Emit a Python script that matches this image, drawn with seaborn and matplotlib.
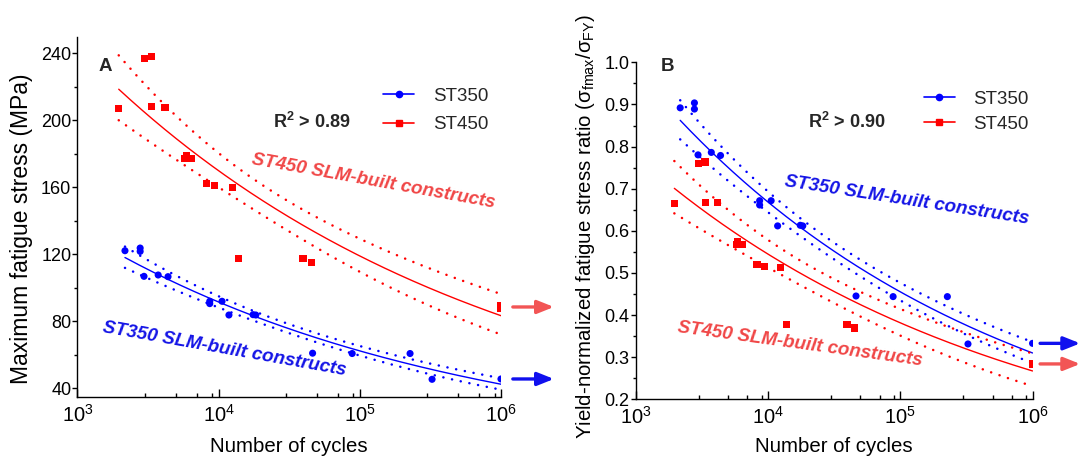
import numpy as np
import pandas as pd
import matplotlib
matplotlib.use("Agg")
import matplotlib.pyplot as plt
import seaborn as sns
from matplotlib.lines import Line2D
from matplotlib.ticker import (LogLocator, LogFormatterSciNotation, MultipleLocator,
                               NullFormatter, FormatStrFormatter)

# Fatigue results: cycles to failure and maximum cyclic stress (MPa)
st350_cycles = [2170, 2780, 2780, 2960, 3730, 4380, 8650, 8650, 10570, 11830,
                17540, 18330, 46300, 88300, 227000, 325000, 1000000]
st350_stress = [122.2, 123.8, 121.8, 106.9, 107.7, 106.7, 92.0, 90.6, 92.0, 83.8,
                84.0, 83.8, 61.0, 60.8, 60.8, 45.4, 45.6]
st450_cycles = [1960, 3000, 3340, 3360, 4170, 5770, 5900, 6380, 8260, 9350,
                12450, 13830, 39600, 45300, 1000000, 1000000]
st450_stress = [207.4, 237.0, 238.2, 208.4, 208.0, 177.0, 179.2, 177.0, 162.4, 161.0,
                160.0, 117.8, 117.8, 115.2, 89.2, 88.0]

alloys = ["ST350", "ST450"]
# Yield strength (MPa) used for the normalised stress ratio
yield_strength = [137.0, 312.0]

# Basquin-type S-N fit, S = coef * N**exponent, with its 95 % confidence band
# half-width (log10 units) w(N) = sqrt(w0**2 + k**2 * (log10 N - centre)**2)
fit_coef = [425.5, 705.9]
fit_exponent = [-0.1668, -0.1546]
band_centre = [4.3, 4.2]
band_w0 = [0.0150, 0.0253]
band_k = [0.0186, 0.0319]
runout_cycles = 1e6

marker_colors = {"ST350": "#0000FF", "ST450": "#FF0000"}
text_colors = {"ST350": "#1414E6", "ST450": "#F04646"}
arrow_colors = {"ST350": "#1010EE", "ST450": "#F25555"}
markers = {"ST350": "o", "ST450": "s"}

sns.set_theme(style="ticks")
plt.rcParams["font.family"] = ["Liberation Sans", "DejaVu Sans"]
plt.rcParams["mathtext.fontset"] = "custom"
plt.rcParams["mathtext.rm"] = "Liberation Sans"
plt.rcParams["mathtext.it"] = "Liberation Sans:italic"
plt.rcParams["mathtext.bf"] = "Liberation Sans:bold"

ys = dict(zip(alloys, yield_strength))
df = pd.DataFrame({
    "cycles": st350_cycles + st450_cycles,
    "stress": st350_stress + st450_stress,
    "alloy": ["ST350"] * len(st350_cycles) + ["ST450"] * len(st450_cycles),
})
df["ratio"] = df["stress"] / df["alloy"].map(ys)

curves = []
for i, alloy in enumerate(alloys):
    sub = df[df["alloy"] == alloy]
    n = np.geomspace(sub["cycles"].min(), sub["cycles"].max(), 300)
    fit = fit_coef[i] * n ** fit_exponent[i]
    w = np.sqrt(band_w0[i] ** 2 + band_k[i] ** 2 * (np.log10(n) - band_centre[i]) ** 2)
    for kind, vals in (("fit", fit), ("lower", fit / 10 ** w), ("upper", fit * 10 ** w)):
        curves.append(pd.DataFrame({"cycles": n, "stress": vals, "alloy": alloy,
                                    "kind": kind}))
curves = pd.concat(curves, ignore_index=True)
curves["ratio"] = curves["stress"] / curves["alloy"].map(ys)

fig = plt.figure(figsize=(10.82, 4.62), dpi=100)
ax_a = fig.add_axes([0.0716, 0.1413, 0.3914, 0.7792])
ax_b = fig.add_axes([0.5875, 0.1357, 0.3668, 0.7294])

panels = [
    dict(ax=ax_a, col="stress", ylim=(35, 250), major=40, minor=20, fmt="%d",
         ylabel="Maximum fatigue stress (MPa)", ylsize=16.5, ylx=-0.104, yly=0.466,
         tag="A", tag_xy=(0.065, 0.917), r2=r"R$^{\mathbf{2}}$ > 0.89",
         r2_xy=(0.553, 0.764), leg_xy=(0.722, 0.859), leg_sp=0.62,
         arrow_x=(1.028, 1.125),
         notes={"ST450": (0.699, 0.597, -10.2), "ST350": (0.348, 0.132, -10.1)}),
    dict(ax=ax_b, col="ratio", ylim=(0.2, 1.0), major=0.1, minor=0.05, fmt="%.1f",
         ylabel="Yield-normalized fatigue stress ratio (σ$_{\\mathregular{fmax}}$/σ$_{\\mathregular{FY}}$)",
         ylsize=14.7, ylx=-0.097, yly=0.514,
         tag="B", tag_xy=(0.0794, 0.987), r2=r"R$^{\mathbf{2}}$ > 0.90",
         r2_xy=(0.533, 0.824), leg_xy=(0.726, 0.916), leg_sp=0.42,
         arrow_x=(1.019, 1.120),
         notes={"ST350": (0.684, 0.590, -8.8), "ST450": (0.414, 0.163, -7.8)}),
]

for P in panels:
    ax = P["ax"]
    ax.set_xscale("log")
    col = P["col"]
    for alloy in alloys:
        c = curves[curves["alloy"] == alloy]
        sns.lineplot(data=c[c["kind"] == "fit"], x="cycles", y=col, ax=ax,
                     color=marker_colors[alloy], lw=1.0, estimator=None, sort=False,
                     legend=False)
        for kind in ("lower", "upper"):
            sns.lineplot(data=c[c["kind"] == kind], x="cycles", y=col, ax=ax,
                         color=marker_colors[alloy], lw=1.8, estimator=None, sort=False,
                         legend=False, linestyle=(0, (0.05, 3.5)),
                         dash_capstyle="round")
    sns.scatterplot(data=df, x="cycles", y=col, hue="alloy", style="alloy",
                    palette=marker_colors, markers=markers, s=26, linewidth=0,
                    legend=False, ax=ax, zorder=3)

    ax.set_xlim(1e3, 1e6)
    ax.set_ylim(*P["ylim"])
    ax.xaxis.set_major_locator(LogLocator(base=10, numticks=10))
    ax.xaxis.set_major_formatter(LogFormatterSciNotation())
    ax.xaxis.set_minor_locator(LogLocator(base=10, subs=(3, 5, 7, 9), numticks=10))
    ax.xaxis.set_minor_formatter(NullFormatter())
    ax.yaxis.set_major_locator(MultipleLocator(P["major"]))
    ax.yaxis.set_minor_locator(MultipleLocator(P["minor"]))
    ax.yaxis.set_major_formatter(FormatStrFormatter(P["fmt"]))

    for side in ("top", "right"):
        ax.spines[side].set_visible(False)
    for side in ("left", "bottom"):
        ax.spines[side].set_linewidth(1.0)
        ax.spines[side].set_color("black")
    ax.tick_params(axis="x", which="major", direction="in", length=5.8, width=1.0,
                   color="black", labelsize=14.5, pad=5, labelcolor="black")
    ax.tick_params(axis="x", which="minor", direction="in", length=2.9, width=1.0,
                   color="black")
    ax.tick_params(axis="y", which="major", direction="out", length=3.6, width=1.0,
                   color="black", labelsize=13, pad=0.8, labelcolor="black")
    ax.tick_params(axis="y", which="minor", direction="out", length=2.5, width=1.0,
                   color="black")

    ax.set_xlabel("Number of cycles", fontsize=14.7, color="black")
    ax.xaxis.set_label_coords(0.5, -0.112)
    ax.set_ylabel(P["ylabel"], fontsize=P["ylsize"], color="black")
    ax.yaxis.set_label_coords(P["ylx"], P["yly"])
    ax.patch.set_alpha(0)

    ax.text(*P["tag_xy"], P["tag"], transform=ax.transAxes, fontsize=13.5,
            fontweight="bold", ha="center", va="center")
    ax.text(*P["r2_xy"], P["r2"], transform=ax.transAxes, fontsize=13,
            fontweight="bold", ha="center", va="center")

    handles = [Line2D([], [], color=marker_colors[a], marker=markers[a], markersize=4.5,
                      lw=1.2) for a in alloys]
    ax.legend(handles, alloys, loc="upper left", bbox_to_anchor=P["leg_xy"],
              frameon=False, fontsize=13.5, handlelength=1.65, handletextpad=1.0,
              labelspacing=P["leg_sp"], borderpad=0, borderaxespad=0)

    for alloy, (tx, ty, rot) in P["notes"].items():
        ax.text(tx, ty, f"{alloy} SLM-built constructs", transform=ax.transAxes,
                rotation=rot, rotation_mode="anchor", ha="center", va="center",
                fontsize=13.5, fontweight="bold", fontstyle="italic",
                color=text_colors[alloy])

    # run-out arrows at 10^6 cycles
    trans = ax.get_yaxis_transform()
    for alloy in alloys:
        sub = df[(df["alloy"] == alloy) & (df["cycles"] >= runout_cycles)]
        yv = sub[col].mean()
        ax.annotate("", xy=(P["arrow_x"][1], yv), xytext=(P["arrow_x"][0], yv),
                    xycoords=trans, textcoords=trans, annotation_clip=False,
                    arrowprops=dict(arrowstyle="-|>,head_length=0.55,head_width=0.22",
                                    mutation_scale=18, lw=2.4,
                                    color=arrow_colors[alloy], shrinkA=0, shrinkB=0))

fig.savefig("out.png", dpi=100, facecolor="white")
